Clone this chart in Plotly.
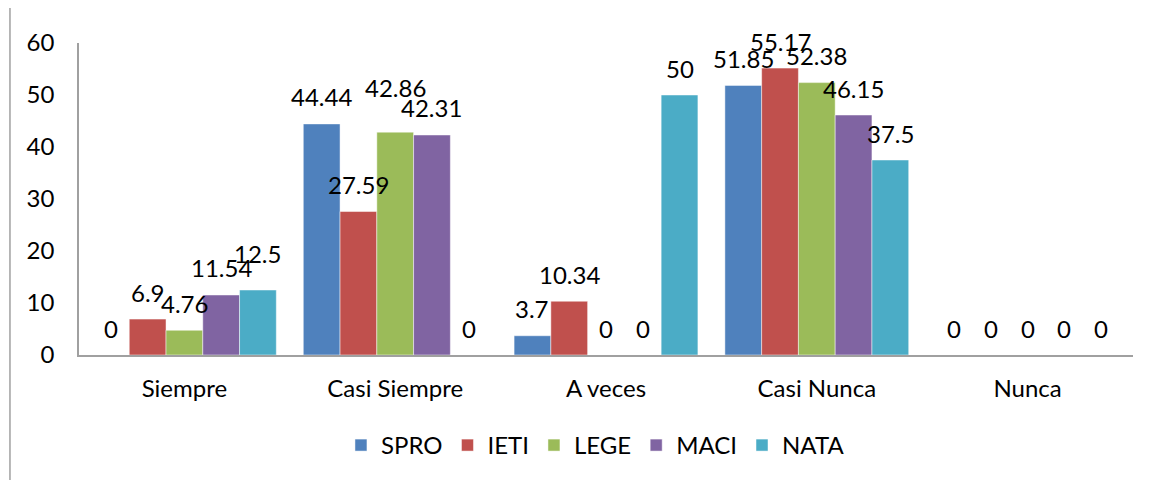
import plotly.graph_objects as go

categories = ["Siempre", "Casi Siempre", "A veces", "Casi Nunca", "Nunca"]
series_names = ["SPRO", "IETI", "LEGE", "MACI", "NATA"]
spro = [0, 44.44, 3.7, 51.85, 0]
ieti = [6.9, 27.59, 10.34, 55.17, 0]
lege = [4.76, 42.86, 0, 52.38, 0]
maci = [11.54, 42.31, 0, 46.15, 0]
nata = [12.5, 0, 50, 37.5, 0]
y_ticks = [0, 10, 20, 30, 40, 50, 60]

series_values = [spro, ieti, lege, maci, nata]
colors = ["#4F81BD", "#C0504D", "#9BBB59", "#8064A2", "#4BACC6"]
FONT = "Lato"
FS = 24
BARGAP = 0.128
# extra vertical label offsets (px) to avoid collisions, like the original's label placement
label_extra = {("NATA", "Siempre"): 10, ("LEGE", "Casi Siempre"): 18}

fig = go.Figure()
for name, vals, col in zip(series_names, series_values, colors):
    fig.add_trace(go.Bar(
        name=name, x=categories, y=vals,
        marker=dict(color=col, line=dict(color="rgba(255,255,255,0.6)", width=0.8)),
    ))

n = len(series_names)
w = (1 - BARGAP) / n
annotations = []
for i, (name, vals) in enumerate(zip(series_names, series_values)):
    for j, v in enumerate(vals):
        annotations.append(dict(
            x=j + (i - (n - 1) / 2) * w, y=v, xref="x", yref="y",
            text=f"{v:g}", showarrow=False,
            yshift=27 + label_extra.get((name, categories[j]), 0), yanchor="middle",
            font=dict(family=FONT, size=FS, color="#000000"),
        ))

fig.update_layout(
    width=1152, height=480,
    margin=dict(l=71, r=27, t=35, b=133, autoexpand=False),
    paper_bgcolor="white", plot_bgcolor="white",
    barmode="group", bargap=BARGAP, bargroupgap=0,
    font=dict(family=FONT, size=FS, color="#000000"),
    showlegend=True,
    legend=dict(orientation="h", x=0.49, xanchor="center", y=-0.29, yanchor="middle",
                font=dict(family=FONT, size=FS), itemwidth=30, traceorder="normal"),
    annotations=annotations,
    shapes=[dict(type="line", xref="paper", yref="paper", x0=-0.0655, x1=-0.0655,
                 y0=-0.45, y1=1.2, line=dict(color="#A0A0A0", width=1.5))],
)
fig.update_xaxes(type="category", showline=True, linecolor="#A0A0A0", linewidth=2,
                 showgrid=False, ticks="", ticklabelstandoff=11, automargin=False,
                 tickfont=dict(family=FONT, size=FS))
fig.update_yaxes(range=[0, 60], tickvals=y_ticks, showline=True, linecolor="#A0A0A0",
                 linewidth=1.5, showgrid=False, zeroline=False, ticks="", automargin=False,
                 ticklabelstandoff=18, tickfont=dict(family=FONT, size=FS))

fig.write_html("out.html")
